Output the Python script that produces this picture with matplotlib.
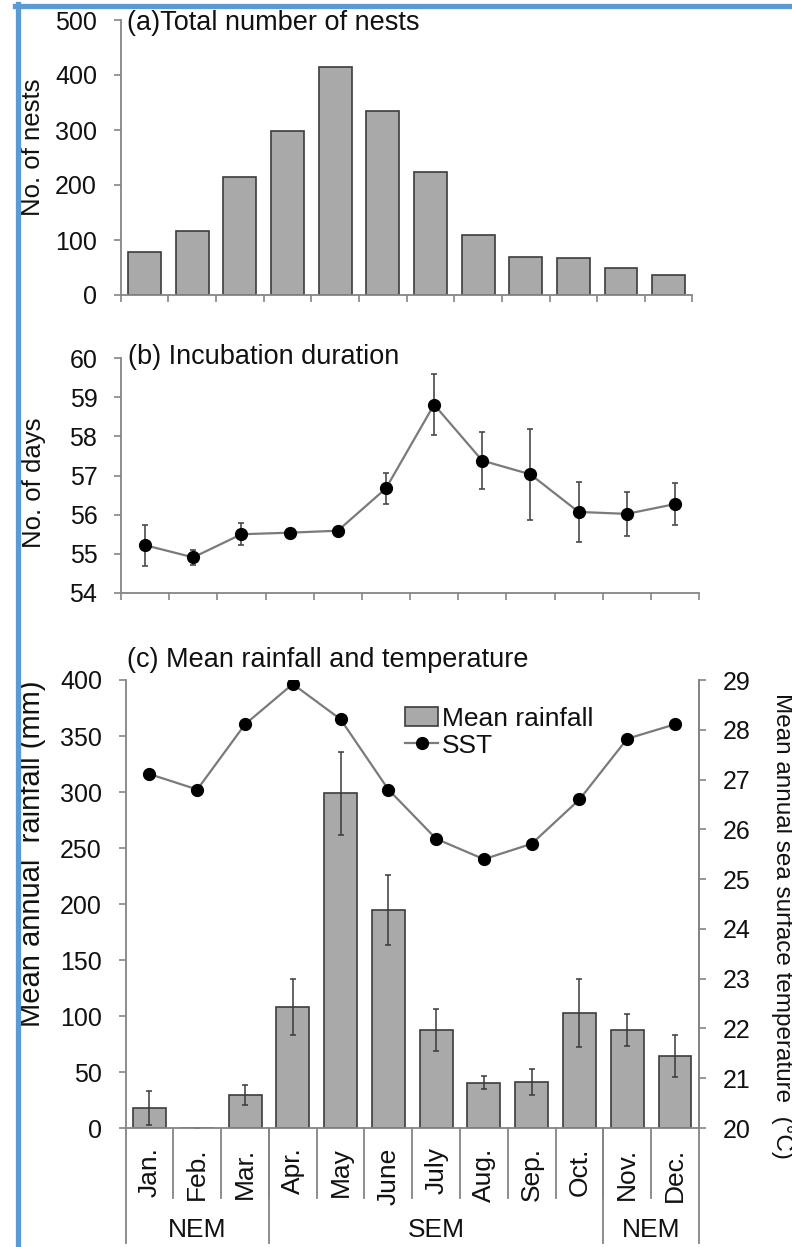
import numpy as np
import matplotlib
matplotlib.use("Agg")
import matplotlib.pyplot as plt
from matplotlib.patches import Patch
from matplotlib.lines import Line2D


# ---- data ----
months = ["Jan.", "Feb.", "Mar.", "Apr.", "May", "June",
          "July", "Aug.", "Sep.", "Oct.", "Nov.", "Dec."]

nests = [78, 116, 215, 298, 414, 335, 224, 109, 69, 67, 49, 36]

incubation = [55.22, 54.91, 55.50, 55.54, 55.59, 56.67,
              58.81, 57.38, 57.03, 56.07, 56.02, 56.27]
incubation_err = [0.52, 0.20, 0.28, 0.0, 0.0, 0.40,
                  0.77, 0.72, 1.16, 0.77, 0.57, 0.53]

rainfall = [18, 0, 29.5, 107.7, 298.8, 194.6, 87.5, 40.5, 41.4, 102.4, 87.5, 64.3]
rainfall_err = [15, 0, 9, 25, 37, 31, 19, 6, 11.5, 30.5, 14.6, 19]

sst = [27.11, 26.80, 28.11, 28.92, 28.21, 26.80,
       25.81, 25.40, 25.71, 26.60, 27.82, 28.11]

seasons = ["NEM", "SEM", "NEM"]
season_len = [3, 7, 2]

# ---- style ----
plt.rcParams["font.family"] = ["Liberation Sans", "DejaVu Sans"]
TXT = "#111111"
AX = "#858585"
BAR = "#a9a9a9"
BAR_EDGE = "#3c3c3c"
LINE = "#7a7a7a"
BORDER = "#5b9bd5"
TICK_FS = 18
TITLE_FS = 19.5

W, H = 792, 1247
x = np.arange(len(months))


def px_axes(fig, left, right, top, bottom):
    return fig.add_axes([left / W, 1 - bottom / H, (right - left) / W, (bottom - top) / H])


def style_axis(ax, spines=("left", "bottom")):
    for s in ax.spines:
        ax.spines[s].set_visible(s in spines)
        ax.spines[s].set_color(AX)
        ax.spines[s].set_linewidth(1.3)
    ax.tick_params(colors=AX, labelcolor=TXT, labelsize=TICK_FS, direction="out",
                   length=5, width=1.2, pad=12)
    ax.set_xlim(-0.5, len(months) - 0.5)


fig = plt.figure(figsize=(W / 100, H / 100), dpi=100)
fig.patch.set_facecolor("white")

# ---- (a) total number of nests ----
ax_a = px_axes(fig, 120.7, 692.5, 20, 295)
ax_a.bar(x, nests, width=0.69, color=BAR, edgecolor=BAR_EDGE, linewidth=1.2, zorder=2)
style_axis(ax_a)
ax_a.set_ylim(0, 500)
ax_a.set_yticks(np.arange(0, 501, 100))
ax_a.set_xticks(np.arange(-0.5, len(months), 1))
ax_a.set_xticklabels([])
ax_a.set_ylabel("No. of nests", fontsize=18.5, color=TXT,
                rotation_mode="default", ha="center", va="center")
ax_a.yaxis.set_label_coords(-0.153, 0.538)
ax_a.text(0.011, 0.99, "(a)Total number of nests", transform=ax_a.transAxes,
          fontsize=TITLE_FS, color=TXT, ha="left", va="center")

# ---- (b) incubation duration ----
ax_b = px_axes(fig, 121, 699, 358, 593)
ax_b.errorbar(x, incubation, yerr=incubation_err, fmt="none", ecolor="#4a4a4a",
              elinewidth=1.2, capsize=2.5, capthick=1.2, zorder=2)
ax_b.plot(x, incubation, color=LINE, lw=1.6, marker="o", ms=8.5,
          mfc="black", mec="black", zorder=3)
style_axis(ax_b)
ax_b.set_ylim(54, 60)
ax_b.set_yticks(np.arange(54, 61, 1))
ax_b.set_xticks(np.arange(-0.5, len(months), 1))
ax_b.set_xticklabels([])
ax_b.set_ylabel("No. of days", fontsize=18.5, color=TXT,
                rotation_mode="default", ha="center", va="center")
ax_b.yaxis.set_label_coords(-0.151, 0.468)
ax_b.text(0.012, 1.004, "(b) Incubation duration", transform=ax_b.transAxes,
          fontsize=TITLE_FS, color=TXT, ha="left", va="center")

# ---- (c) rainfall and SST ----
ax_c = px_axes(fig, 125.6, 698.9, 680, 1128)
ax_c.bar(x, rainfall, width=0.69, color=BAR, edgecolor=BAR_EDGE, linewidth=1.2,
         yerr=rainfall_err, error_kw=dict(ecolor="#3a3a3a", elinewidth=1.1,
                                          capsize=2.5, capthick=1.1), zorder=2)
style_axis(ax_c, spines=("left", "bottom", "right"))
ax_c.set_ylim(0, 400)
ax_c.set_yticks(np.arange(0, 401, 50))
ax_c.set_xticks(x)
ax_c.set_xticklabels(months, rotation=90, fontsize=19, color=TXT)
ax_c.tick_params(axis="x", length=0, pad=14)
ax_c.set_ylabel("Mean annual  rainfall (mm)", fontsize=21, color=TXT,
                rotation_mode="default", ha="center", va="center")
ax_c.yaxis.set_label_coords(-0.163, 0.612)
ax_c.text(0.003, 1.045, "(c) Mean rainfall and temperature", transform=ax_c.transAxes,
          fontsize=TITLE_FS, color=TXT, ha="left", va="center")

# month and season separators below the axis
tr = ax_c.get_xaxis_transform()
for b in np.arange(0.5, len(months) - 1, 1):
    ax_c.plot([b, b], [0, -0.156], transform=tr, color=AX, lw=1.3, clip_on=False)
edges = np.concatenate([[0], np.cumsum(season_len)]) - 0.5
for b in edges:
    ax_c.plot([b, b], [0, -0.257], transform=tr, color=AX, lw=1.3, clip_on=False)
for name, lo, hi in zip(seasons, edges[:-1], edges[1:]):
    ax_c.text((lo + hi) / 2, -0.228, name, transform=tr, fontsize=19,
              color=TXT, ha="center", va="center")

ax_t = ax_c.twinx()
ax_t.plot(x, sst, color=LINE, lw=1.6, marker="o", ms=8.5,
          mfc="black", mec="black", zorder=3)
for s in ax_t.spines:
    ax_t.spines[s].set_visible(s == "right")
ax_t.spines["right"].set_color(AX)
ax_t.spines["right"].set_linewidth(1.3)
ax_t.tick_params(colors=AX, labelcolor=TXT, labelsize=TICK_FS, direction="out",
                 length=5, width=1.2, pad=12)
ax_t.set_ylim(20, 29)
ax_t.set_yticks(np.arange(20, 30, 1))
ax_t.set_ylabel("Mean annual sea surface temperature  (\u00b0C)", fontsize=17.5,
                color=TXT, rotation=270, rotation_mode="default",
                ha="center", va="center")
ax_t.yaxis.set_label_coords(1.145, 0.451)

handles = [Patch(facecolor=BAR, edgecolor=BAR_EDGE, linewidth=1.2),
           Line2D([], [], color=LINE, lw=1.6, marker="o", ms=8.5,
                  mfc="black", mec="black")]
ax_t.legend(handles, ["Mean rainfall", "SST"], loc="upper left",
            bbox_to_anchor=(0.488, 0.94), frameon=False, fontsize=19,
            borderaxespad=0, borderpad=0, handlelength=1.25, handletextpad=0.15,
            labelspacing=0.1, labelcolor=TXT)

# blue frame (top and left edges of the screenshot)
fig.add_artist(Line2D([15 / W, 1], [1 - 5.5 / H, 1 - 5.5 / H], color=BORDER, lw=3.8))
fig.add_artist(Line2D([17.5 / W, 17.5 / W], [0, 1 - 3.5 / H], color=BORDER, lw=3.8))

fig.savefig("out.png", dpi=100)
plt.close(fig)
